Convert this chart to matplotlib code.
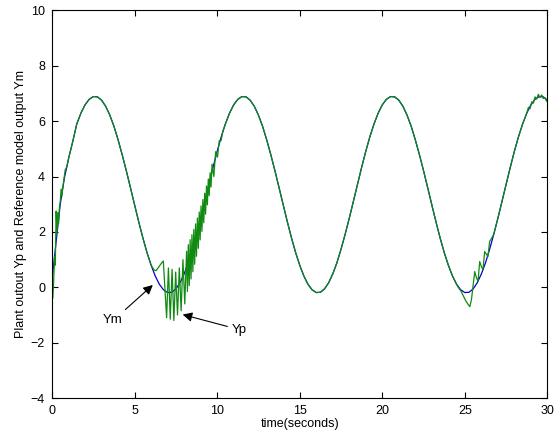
import numpy as np
import matplotlib
matplotlib.use("Agg")
import matplotlib.pyplot as plt

plt.rcParams['font.family'] = ['Liberation Sans', 'DejaVu Sans']

ym_t = np.arange(0, 30.001, 0.25)
ym_cycle = [2.49, 3.10, 3.72, 4.33, 4.91, 5.44, 5.90, 6.29, 6.59, 6.79, 6.89, 6.88,
            6.76, 6.54, 6.22, 5.82, 5.33, 4.79, 4.21, 3.60, 2.98, 2.37, 1.79, 1.26,
            0.80, 0.41, 0.11, -0.09, -0.19, -0.18, -0.06, 0.16, 0.48, 0.88, 1.37, 1.91]
ym_start = [0.25, 1.65, 3.0, 3.95, 4.64, 5.25]
ym_vals = np.array(ym_start + ym_cycle[6:] + ym_cycle + ym_cycle + ym_cycle[:13])

# plant output Yp: same as Ym except in these stretches
yp_dev1_t = [0, 0.05, 0.1, 0.15, 0.2, 0.25, 0.3, 0.35, 0.4, 0.45, 0.5, 0.55, 0.6,
             0.65, 0.7, 0.8, 0.9, 1.0]
yp_dev1_y = [0.0, -0.4, 0.2, 1.1, 0.8, 2.75, 1.95, 2.7, 2.3, 2.9, 3.1, 3.55, 3.3,
             3.6, 3.8, 4.25, 4.35, 4.65]

# the big oscillation after t=6
yp_dev2_t = [6.1, 6.2, 6.3, 6.45, 6.6, 6.74, 6.94, 7.05, 7.16, 7.27, 7.38, 7.49,
             7.60, 7.71, 7.82, 7.93, 8.04, 8.15,
             8.20, 8.255, 8.31, 8.365, 8.42, 8.475, 8.53, 8.585, 8.64, 8.695,
             8.75, 8.805, 8.86, 8.915, 8.97, 9.025, 9.08, 9.135, 9.19, 9.245,
             9.30, 9.355, 9.41, 9.465, 9.52, 9.575, 9.63,
             9.69, 9.80, 9.91, 10.02, 10.13, 10.24, 10.35]
yp_dev2_y = [0.70, 0.62, 0.60, 0.72, 0.85, 0.95, -1.10, 0.70, -1.15, 0.65, -1.20, 0.55,
             -1.00, 0.70, -0.85, 1.00, -0.60, 1.30,
             -0.15, 1.54, 0.06, 1.72, 0.30, 1.90, 0.56, 2.09, 0.83, 2.29,
             1.12, 2.50, 1.41, 2.72, 1.71, 2.94, 2.02, 3.17, 2.33, 3.40,
             2.64, 3.66, 2.98, 3.91, 3.31, 4.14, 3.62,
             4.45, 4.00, 4.90, 4.70, 5.30, 5.30, 5.65]

yp_dev3_t = [24.6, 24.75, 24.9, 25.05, 25.2, 25.3, 25.4, 25.5, 25.6, 25.7, 25.8,
             25.9, 26.0, 26.1, 26.2, 26.3, 26.4, 26.5, 26.6]
yp_dev3_y = [0.0, -0.12, -0.30, -0.48, -0.62, -0.70, -0.45, 0.05, 0.57, 0.35, 0.21,
             0.93, 0.75, 0.63, 1.29, 1.20, 1.11, 1.65, 1.75]

yp_dev4_t = [28.85, 28.95, 29.05, 29.15, 29.25, 29.35, 29.45, 29.55, 29.65, 29.75,
             29.85, 29.95, 30.0]
yp_dev4_y = [6.50, 6.45, 6.70, 6.65, 6.88, 6.80, 6.97, 6.85, 6.95, 6.82,
             6.85, 6.72, 6.78]

# splice the deviations into the Ym samples
keep = ~((ym_t <= 1.0) | ((ym_t > 6.0) & (ym_t < 10.5)) |
         ((ym_t > 24.5) & (ym_t < 26.75)) | (ym_t > 28.75))
yp_t = np.concatenate([ym_t[keep], yp_dev1_t, yp_dev2_t, yp_dev3_t, yp_dev4_t])
yp_y = np.concatenate([ym_vals[keep], yp_dev1_y, yp_dev2_y, yp_dev3_y, yp_dev4_y])
order = np.argsort(yp_t)
yp_t, yp_y = yp_t[order], yp_y[order]

fig = plt.figure(figsize=(5.58, 4.33), dpi=100)
ax = fig.add_axes([0.0932, 0.0808, 0.8878, 0.895])

ax.plot(ym_t, ym_vals, color='#0000cc', lw=0.9)
ax.plot(yp_t, yp_y, color='#108a10', lw=0.9)

ax.set_xlim(0, 30)
ax.set_ylim(-4, 10)
ax.set_xticks([0, 5, 10, 15, 20, 25, 30])
ax.set_yticks([-4, -2, 0, 2, 4, 6, 8, 10])
ax.tick_params(direction='in', top=True, right=True, labelsize=9, length=4, pad=5)
for s in ax.spines.values():
    s.set_linewidth(0.8)

ax.set_xlabel('time(seconds)', fontsize=9, labelpad=1)
ax.set_ylabel('Plant outout Yp and Reference model output Ym', fontsize=9, labelpad=3)

arr = dict(arrowstyle='-|>', color='black', lw=0.8, mutation_scale=14)
ax.annotate('', xy=(6.23, 0.15), xytext=(4.32, -0.87), arrowprops=arr)
ax.text(3.65, -1.17, 'Ym', fontsize=9.5, ha='center', va='center')
ax.annotate('', xy=(7.75, -0.96), xytext=(10.78, -1.44), arrowprops=arr)
ax.text(10.9, -1.53, 'Yp', fontsize=9.5, ha='left', va='center')

fig.savefig('out.png', dpi=100)
